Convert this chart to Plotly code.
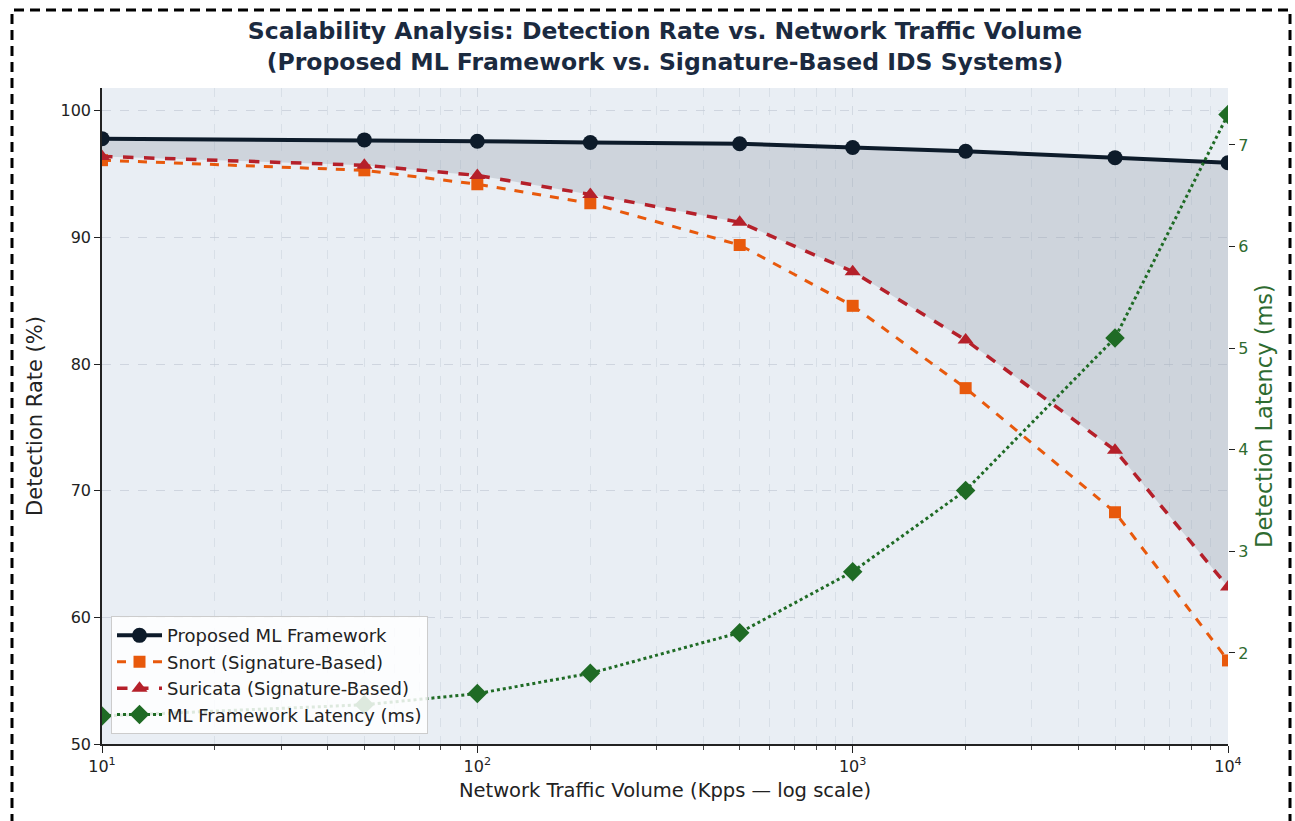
import plotly.graph_objects as go

traffic = [10, 50, 100, 200, 500, 1000, 2000, 5000, 10000]
proposed = [97.8, 97.7, 97.6, 97.5, 97.4, 97.1, 96.8, 96.3, 95.9]
snort = [96.1, 95.3, 94.2, 92.7, 89.4, 84.6, 78.1, 68.3, 56.6]
suricata = [96.4, 95.7, 94.9, 93.4, 91.2, 87.3, 81.9, 73.2, 62.4]
latency = [1.38, 1.49, 1.6, 1.8, 2.2, 2.8, 3.6, 5.1, 7.3]

x_major = [10, 100, 1000, 10000]
x_major_text = ["10<sup>1</sup>", "10<sup>2</sup>", "10<sup>3</sup>", "10<sup>4</sup>"]
x_minor = [m * d for d in [10, 100, 1000] for m in range(2, 10)]

C_PROP = "#0d1b2a"
C_SNORT = "#e8590c"
C_SURI = "#b5202a"
C_LAT = "#1f6b25"
FONT = "DejaVu Sans"

fig = go.Figure()

# shaded gap between proposed and suricata
fig.add_trace(go.Scatter(x=traffic, y=suricata, mode="lines", line=dict(width=0),
                         showlegend=False, hoverinfo="skip"))
fig.add_trace(go.Scatter(x=traffic, y=proposed, mode="lines", line=dict(width=0),
                         fill="tonexty", fillcolor="rgba(150,160,172,0.32)",
                         showlegend=False, hoverinfo="skip"))

fig.add_trace(go.Scatter(x=traffic, y=proposed, name="Proposed ML Framework",
                         mode="lines+markers",
                         line=dict(color=C_PROP, width=4),
                         marker=dict(symbol="circle", size=15, color=C_PROP)))
fig.add_trace(go.Scatter(x=traffic, y=snort, name="Snort (Signature-Based)",
                         mode="lines+markers",
                         line=dict(color=C_SNORT, width=3, dash="dash"),
                         marker=dict(symbol="square", size=12, color=C_SNORT)))
fig.add_trace(go.Scatter(x=traffic, y=suricata, name="Suricata (Signature-Based)",
                         mode="lines+markers",
                         line=dict(color=C_SURI, width=3.5, dash="dash"),
                         marker=dict(symbol="triangle-up", size=14, color=C_SURI)))
fig.add_trace(go.Scatter(x=traffic, y=latency, name="ML Framework Latency (ms)",
                         mode="lines+markers", yaxis="y2",
                         line=dict(color=C_LAT, width=3, dash="dot"),
                         marker=dict(symbol="diamond", size=15, color=C_LAT)))

fig.update_layout(
    width=1295, height=821,
    margin=dict(l=102, r=67, t=88, b=77),
    paper_bgcolor="white",
    plot_bgcolor="#e9eef4",
    font=dict(family=FONT, size=16, color="#222222"),
    title=dict(
        text="<b>Scalability Analysis: Detection Rate vs. Network Traffic Volume<br>(Proposed ML Framework vs. Signature-Based IDS Systems)</b>",
        x=(102 + 1228) / 2 / 1295, xanchor="center", y=0.952, yanchor="middle",
        font=dict(family=FONT, size=23.5, color="#1b2a3f"),
    ),
    xaxis=dict(
        type="log", range=[1, 4],
        tickmode="array", tickvals=x_major, ticktext=x_major_text,
        ticks="outside", ticklen=7, tickcolor="#222", tickwidth=1.2,
        tickfont=dict(size=16),
        showline=True, linecolor="#222", linewidth=1.5,
        showgrid=True, gridcolor="rgba(195,203,214,0.6)", gridwidth=1, griddash="dash",
        minor=dict(tickmode="array", tickvals=x_minor, ticks="outside", ticklen=4,
                   tickcolor="#444", showgrid=True, gridcolor="rgba(195,203,214,0.45)",
                   griddash="dash"),
        zeroline=False,
        title=dict(text="Network Traffic Volume (Kpps — log scale)", font=dict(size=19.5), standoff=8),
    ),
    yaxis=dict(
        range=[50, 101.8], tickvals=[50, 60, 70, 80, 90, 100],
        ticks="outside", ticklen=6, tickcolor="#222",
        tickfont=dict(size=16),
        showline=True, linecolor="#222", linewidth=1.5,
        showgrid=True, gridcolor="rgba(195,203,214,0.7)", griddash="dash",
        zeroline=False,
        title=dict(text="Detection Rate (%)", font=dict(size=21), standoff=12),
    ),
    yaxis2=dict(
        overlaying="y", side="right",
        range=[1.104, 7.56], tickvals=[2, 3, 4, 5, 6, 7],
        ticks="outside", ticklen=6, tickcolor="#222",
        tickfont=dict(color="#2e6b30", size=16),
        showline=False, showgrid=False, zeroline=False,
        title=dict(text="Detection Latency (ms)", font=dict(size=22.5, color="#2e6b30"), standoff=8),
    ),
    legend=dict(
        x=0.008, y=0.015, xanchor="left", yanchor="bottom",
        traceorder="normal",
        bgcolor="rgba(255,255,255,0.85)", bordercolor="#cccccc", borderwidth=1,
        font=dict(size=18, color="#222"), itemwidth=45, tracegroupgap=0,
    ),
    shapes=[dict(type="rect", xref="paper", yref="paper",
                 x0=(12 - 102) / 1126, x1=(1290 - 102) / 1126,
                 y0=(744 - 826) / 656, y1=(744 - 10) / 656,
                 line=dict(color="black", width=3, dash="10px,6px"),
                 fillcolor="rgba(0,0,0,0)", layer="above")],
)

fig.write_html("out.html")
